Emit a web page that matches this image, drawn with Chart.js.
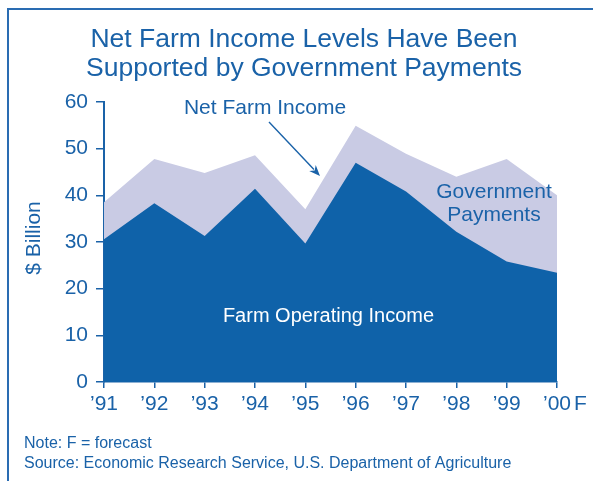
<!DOCTYPE html>
<html>
<head>
<meta charset="utf-8">
<script src="https://cdn.jsdelivr.net/npm/chart.js@4/dist/chart.umd.min.js"></script>
<style>
  html, body { margin: 0; padding: 0; background: #ffffff; }
  canvas { display: block; }
</style>
</head>
<body>
<canvas id="c" width="593" height="481"></canvas>
<script>
// ---- data ----
const years = ['’91', '’92', '’93', '’94', '’95', '’96', '’97', '’98', '’99', '’00'];
const forecastSuffix = 'F'; // last year is a forecast
const farmOperatingIncome = [30.6, 38.3, 31.3, 41.4, 29.7, 47.0, 40.8, 32.2, 25.8, 23.4];
const netFarmIncome = [38.5, 47.8, 44.8, 48.6, 37.0, 54.9, 48.9, 44.0, 47.8, 40.0];
const yTicks = [0, 10, 20, 30, 40, 50, 60];

const TEXT = '#1a62a8';
const DARK = '#0f62a9';
const LIGHT = '#c9cbe4';
const FONT = '"Liberation Sans", Arial, Helvetica, sans-serif';

Chart.defaults.font.family = FONT;

const decor = {
  id: 'decor',
  afterDraw(chart) {
    const ctx = chart.ctx;
    const xs = chart.scales.x;
    ctx.save();
    // frame
    ctx.strokeStyle = '#2a6cb2';
    ctx.lineWidth = 2;
    ctx.beginPath();
    ctx.moveTo(8, 700);
    ctx.lineTo(8, 9);
    ctx.lineTo(800, 9);
    ctx.stroke();

    ctx.fillStyle = TEXT;
    // title
    ctx.font = '26.5px ' + FONT;
    ctx.textAlign = 'center';
    ctx.textBaseline = 'alphabetic';
    ctx.fillText('Net Farm Income Levels Have Been', 304, 47);
    ctx.fillText('Supported by Government Payments', 304, 76);

    // y axis title
    ctx.save();
    ctx.translate(34, 238);
    ctx.rotate(-Math.PI / 2);
    ctx.font = '21px ' + FONT;
    ctx.textBaseline = 'middle';
    ctx.textAlign = 'center';
    ctx.fillText('$ Billion', 0, 0);
    ctx.restore();

    // annotations
    ctx.font = '21px ' + FONT;
    ctx.textAlign = 'center';
    ctx.textBaseline = 'alphabetic';
    ctx.fillText('Net Farm Income', 265, 114);
    ctx.fillText('Government', 494, 198);
    ctx.fillText('Payments', 494, 220.5);
    ctx.fillStyle = '#ffffff';
    ctx.font = '20px ' + FONT;
    ctx.fillText('Farm Operating Income', 328.5, 321.5);

    // arrow
    const x0 = 269, y0 = 122, x1 = 320, y1 = 176;
    ctx.strokeStyle = TEXT;
    ctx.fillStyle = TEXT;
    ctx.lineWidth = 1.4;
    const ang = Math.atan2(y1 - y0, x1 - x0);
    const hl = 11, hw = 4.5;
    ctx.beginPath();
    ctx.moveTo(x0, y0);
    ctx.lineTo(x1 - hl * 0.8 * Math.cos(ang), y1 - hl * 0.8 * Math.sin(ang));
    ctx.stroke();
    ctx.beginPath();
    ctx.moveTo(x1, y1);
    ctx.lineTo(x1 - hl * Math.cos(ang) + hw * Math.sin(ang), y1 - hl * Math.sin(ang) - hw * Math.cos(ang));
    ctx.lineTo(x1 - hl * 0.7 * Math.cos(ang), y1 - hl * 0.7 * Math.sin(ang));
    ctx.lineTo(x1 - hl * Math.cos(ang) - hw * Math.sin(ang), y1 - hl * Math.sin(ang) + hw * Math.cos(ang));
    ctx.closePath();
    ctx.fill();

    // forecast mark after the last tick label
    const items = xs.getLabelItems();
    const last = items[items.length - 1];
    if (last) {
      const f = last.font;
      ctx.font = f.string;
      const w = ctx.measureText(last.label).width;
      ctx.textAlign = 'left';
      ctx.textBaseline = last.options.textBaseline;
      const [tx, ty] = last.options.translation;
      ctx.fillText(forecastSuffix, tx + w / 2 + 3, ty + last.textOffset);
    }

    // notes
    ctx.font = '16px ' + FONT;
    ctx.textAlign = 'left';
    ctx.textBaseline = 'alphabetic';
    ctx.fillText('Note: F = forecast', 24, 447.5);
    ctx.fillText('Source: Economic Research Service, U.S. Department of Agriculture', 24, 467.5);
    ctx.restore();
  }
};

new Chart(document.getElementById('c'), {
  type: 'line',
  data: {
    labels: years,
    datasets: [
      {
        label: 'Farm Operating Income',
        data: farmOperatingIncome,
        fill: 'origin',
        backgroundColor: DARK,
        borderColor: 'rgba(0,0,0,0)',
        borderWidth: 0,
        pointRadius: 0,
        tension: 0
      },
      {
        label: 'Net Farm Income',
        data: netFarmIncome,
        fill: 'origin',
        backgroundColor: LIGHT,
        borderColor: 'rgba(0,0,0,0)',
        borderWidth: 0,
        pointRadius: 0,
        tension: 0
      }
    ]
  },
  options: {
    responsive: false,
    animation: false,
    devicePixelRatio: 1,
    layout: { padding: { left: 50, right: 36, top: 102, bottom: 59 } },
    plugins: { legend: { display: false }, tooltip: { enabled: false }, title: { display: false } },
    scales: {
      x: {
        type: 'category',
        offset: false,
        afterFit: s => { s.height = 40; },
        grid: { display: true, drawOnChartArea: false, drawTicks: true, tickLength: 6, color: TEXT, lineWidth: 1.5 },
        border: { display: true, color: TEXT, width: 1.5 },
        ticks: {
          color: TEXT,
          font: { size: 21 },
          padding: 4,
          maxRotation: 0,
          autoSkip: false
        }
      },
      y: {
        min: 0,
        max: 60,
        afterFit: s => { s.width = 54; },
        afterBuildTicks: s => { s.ticks = yTicks.map(v => ({ value: v })); },
        grid: { display: true, drawOnChartArea: false, drawTicks: true, tickLength: 8, color: TEXT, lineWidth: 1.5 },
        border: { display: true, color: TEXT, width: 2 },
        ticks: { color: TEXT, font: { size: 21 }, padding: 8 }
      }
    }
  },
  plugins: [decor]
});
</script>
</body>
</html>
